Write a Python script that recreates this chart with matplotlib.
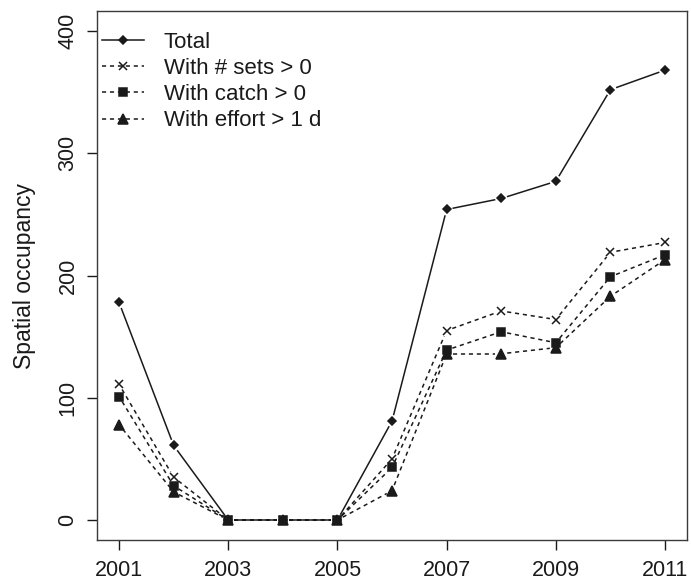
import numpy as np
import matplotlib
matplotlib.use("Agg")
import matplotlib.pyplot as plt
from matplotlib.lines import Line2D

plt.rcParams['font.family'] = ['Liberation Sans', 'DejaVu Sans']

years = [2001, 2002, 2003, 2004, 2005, 2006, 2007, 2008, 2009, 2010, 2011]
total = [178, 61, 0, 0, 0, 81, 254, 263, 277, 352, 368]
with_sets = [111, 35, 0, 0, 0, 50, 155, 171, 164, 219, 227]
with_catch = [101, 28, 0, 0, 0, 43, 139, 154, 145, 199, 217]
with_effort = [78, 23, 0, 0, 0, 24, 136, 136, 141, 183, 213]

labels = ["Total", "With # sets > 0", "With catch > 0", "With effort > 1 d"]
x_ticks = [2001, 2003, 2005, 2007, 2009, 2011]
y_ticks = [0, 100, 200, 300, 400]

INK = "#1a1a1a"
DPI = 100
fig = plt.figure(figsize=(6.91, 5.86), dpi=DPI)
ax = fig.add_axes([0.1407, 0.0792, 0.994 - 0.1407, 0.9805 - 0.0792])
ax.set_xlim(2000.6, 2011.4)
ax.set_ylim(-16, 416)

DASH = (2.7, 2.5)
styles = [
    dict(marker="D", ms=4.5, ls="-", dashes=None),
    dict(marker="x", ms=6.0, ls="--", dashes=DASH),
    dict(marker="s", ms=5.6, ls="--", dashes=DASH),
    dict(marker="^", ms=6.6, ls="--", dashes=DASH),
]
series = [total, with_sets, with_catch, with_effort]


def gapped_line(ax, x, y, gap_px, **kw):
    """Connect points like R's type='b': segments stop short of each marker."""
    pts = ax.transData.transform(np.column_stack([x, y]))
    inv = ax.transData.inverted()
    for p0, p1 in zip(pts[:-1], pts[1:]):
        d = p1 - p0
        L = np.hypot(*d)
        if L <= 2 * gap_px:
            continue
        u = d / L
        seg = inv.transform(np.array([p0 + u * gap_px, p1 - u * gap_px]))
        ax.plot(seg[:, 0], seg[:, 1], **kw)


# dashed series first so the solid total line sits on top
for vals, st in list(zip(series, styles))[::-1]:
    kw = dict(color=INK, lw=1.1, solid_capstyle="butt", dash_capstyle="butt")
    if st["dashes"] is not None:
        kw["dashes"] = st["dashes"]
    gapped_line(ax, years, vals, 6.0, **kw)
    ax.plot(years, vals, ls="none", marker=st["marker"], ms=st["ms"],
            color=INK, mew=1.1)

handles = []
for st, lab in zip(styles, labels):
    h = Line2D([], [], color=INK, lw=1.1, marker=st["marker"], ms=st["ms"],
               mew=1.1, ls=st["ls"])
    if st["dashes"] is not None:
        h.set_dashes(st["dashes"])
    handles.append(h)
leg = ax.legend(handles, labels, loc="upper left", frameon=False,
                fontsize=16, handlelength=1.86, handletextpad=0.9,
                labelspacing=0.23, borderaxespad=0, borderpad=0,
                bbox_to_anchor=(0.0085, 0.961))
for t in leg.get_texts():
    t.set_color(INK)

ax.set_xticks(x_ticks)
ax.set_yticks(y_ticks)
ax.set_xticklabels([str(v) for v in x_ticks])
ax.set_yticklabels([str(v) for v in y_ticks], rotation=90, va="center")
ax.tick_params(direction="out", length=7, width=1, colors=INK,
               labelsize=15.5)
ax.tick_params(axis="x", pad=7.7)
ax.tick_params(axis="y", pad=6.5)
for sp in ax.spines.values():
    sp.set_color("#3a3a3a")
    sp.set_linewidth(1.0)
ax.set_ylabel("Spatial occupancy", fontsize=16.5, color=INK)
ax.yaxis.set_label_coords(-0.104, 0.5)

fig.savefig("out.png", dpi=DPI)
